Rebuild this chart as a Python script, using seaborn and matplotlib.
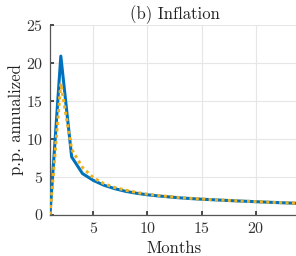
import matplotlib
matplotlib.use("Agg")
import matplotlib.pyplot as plt
import seaborn as sns
import pandas as pd
import numpy as np

months = list(range(1, 25))
baseline = [0.0, 20.9, 7.6, 5.4, 4.5, 3.85, 3.4, 3.05, 2.8, 2.6, 2.45, 2.32, 2.2, 2.1,
            2.02, 1.95, 1.88, 1.81, 1.75, 1.69, 1.63, 1.57, 1.52, 1.47]
alternative = [0.0, 17.3, 8.6, 6.2, 4.85, 4.05, 3.55, 3.2, 2.9, 2.68, 2.5, 2.36, 2.24, 2.13,
               2.04, 1.96, 1.89, 1.82, 1.76, 1.7, 1.64, 1.58, 1.53, 1.48]
title = "(b) Inflation"
xlabel = "Months"
ylabel = "p.p. annualized"
xticks = [5, 10, 15, 20]
yticks = [0, 5, 10, 15, 20, 25]

df = pd.DataFrame({"Months": months, "baseline": baseline, "alternative": alternative})

sns.set_theme(style="white")
plt.rcParams["font.family"] = ["cmr10", "DejaVu Serif"]
plt.rcParams["mathtext.fontset"] = "cm"
plt.rcParams["axes.formatter.use_mathtext"] = True

fig = plt.figure(figsize=(2.96, 2.56), dpi=100)
ax = fig.add_axes([50 / 296, 1 - 214.5 / 256, (299 - 50) / 296, (214.5 - 25) / 256])

sns.lineplot(data=df, x="Months", y="baseline", ax=ax, color="#0072BD", lw=2.2, zorder=3)
sns.lineplot(data=df, x="Months", y="alternative", ax=ax, color="#EDB120", lw=2.2,
             linestyle=(0, (1, 1.1)), zorder=4)

ax.set_xlim(1, 24)
ax.set_ylim(0, 25)
ax.set_xticks(xticks)
ax.set_yticks(yticks)
ax.grid(True, color="#e6e6e6", lw=0.8)
for s in ["top", "right"]:
    ax.spines[s].set_visible(False)
for s in ["left", "bottom"]:
    ax.spines[s].set_color("#555555")
    ax.spines[s].set_linewidth(0.9)
ax.tick_params(axis="both", labelsize=11.5, colors="#333333", length=3, direction="in",
               bottom=True, left=True, pad=5)
ax.set_xlabel(xlabel, fontsize=12, color="#222222", labelpad=3)
ax.set_ylabel(ylabel, fontsize=12, color="#222222", labelpad=1)
ax.set_title(title, fontsize=12, color="#222222", pad=4)

fig.savefig("out.png", dpi=100)
